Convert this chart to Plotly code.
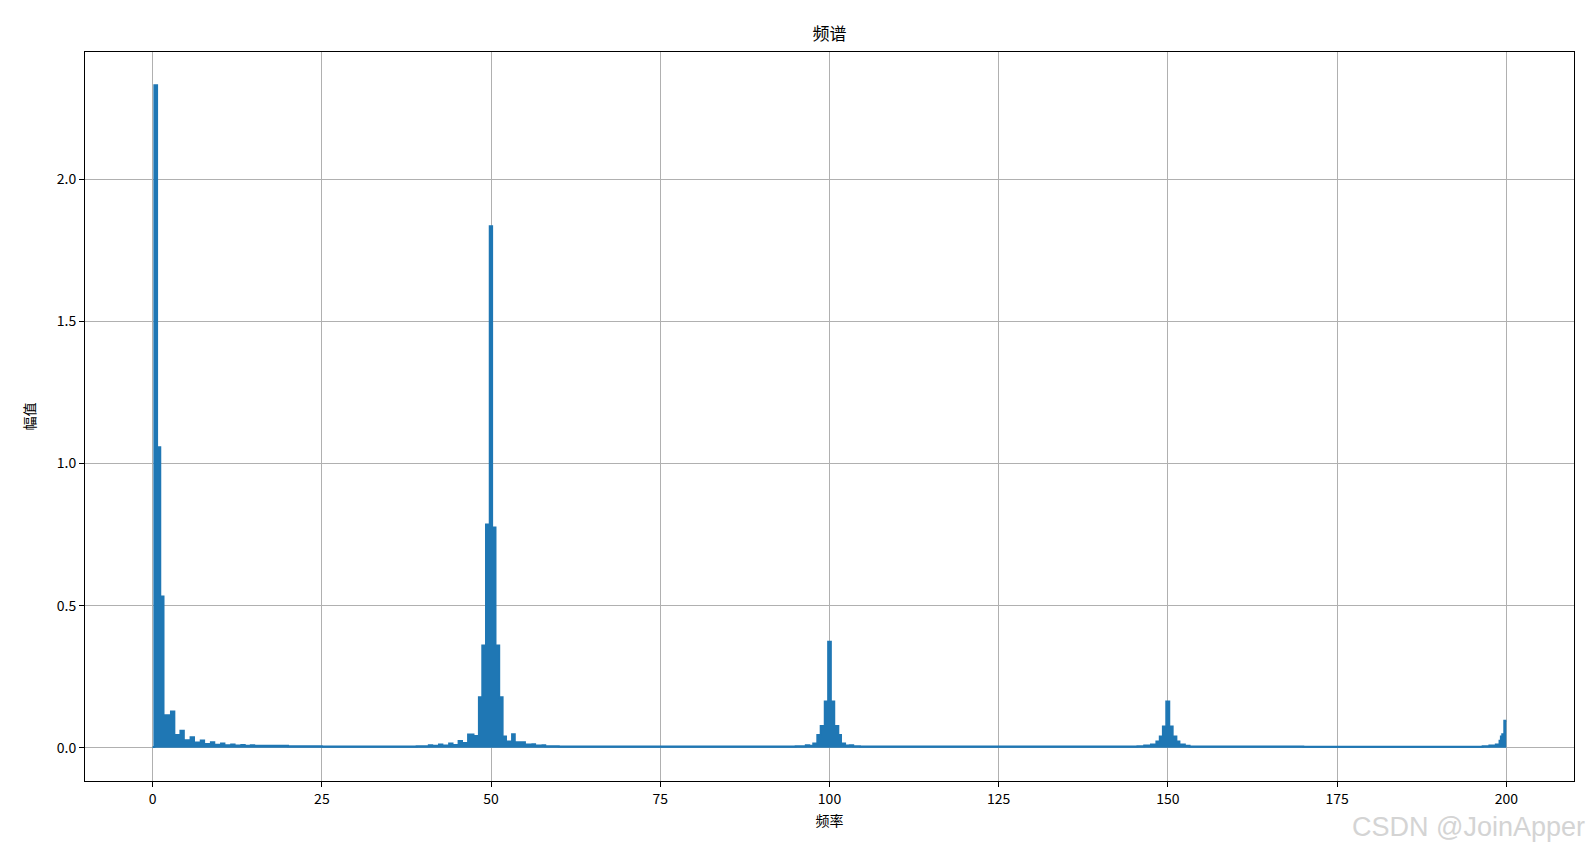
import plotly.graph_objects as go

# spectrum, as step levels (left edge of each step, amplitude)
dc_freq = [0.0, 0.25, 0.65, 1.12, 1.6, 2.7, 3.2, 4.1, 4.6, 5.6, 6.1, 7.1, 7.6,
           8.6, 9.1, 10.1, 10.6, 11.6, 12.1, 13.1, 13.6, 14.5, 15.0]
dc_amp = [0.003, 2.33, 1.057, 0.532, 0.115, 0.128, 0.045, 0.06, 0.027, 0.037,
          0.019, 0.026, 0.014, 0.02, 0.011, 0.015, 0.009, 0.012, 0.008, 0.01,
          0.007, 0.009, 0.007]

floor1_freq = [20.0, 25.0, 30.0, 35.0, 39.0]
floor1_amp = [0.006, 0.005, 0.005, 0.005, 0.006]

h50_freq = [40.8, 41.3, 42.3, 42.8, 43.8, 44.3, 45.2, 45.7, 46.6, 47.4, 48.2,
            48.7, 49.25, 49.8, 50.15, 50.65, 51.2, 51.7, 52.2, 53.1, 53.5,
            54.6, 55.0, 56.1, 56.5, 57.6, 58.0]
h50_amp = [0.009, 0.007, 0.012, 0.008, 0.015, 0.01, 0.024, 0.017, 0.047, 0.042,
           0.178, 0.36, 0.785, 1.834, 0.775, 0.36, 0.178, 0.04, 0.022, 0.048,
           0.02, 0.02, 0.012, 0.013, 0.008, 0.009, 0.006]

floor2_freq = [60.0, 70.0, 80.0, 90.0]
floor2_amp = [0.005, 0.005, 0.005, 0.005]

h100_freq = [95.0, 96.5, 97.0, 97.6, 98.2, 98.7, 99.3, 99.8, 100.2, 100.7,
             101.3, 101.7, 102.3, 103.0, 103.5, 104.5]
h100_amp = [0.006, 0.009, 0.007, 0.015, 0.045, 0.077, 0.163, 0.373, 0.163,
            0.077, 0.045, 0.015, 0.008, 0.009, 0.006, 0.005]

floor3_freq = [110.0, 120.0, 130.0, 140.0]
floor3_amp = [0.005, 0.005, 0.005, 0.005]

h150_freq = [145.5, 146.5, 147.5, 148.3, 148.8, 149.26, 149.76, 150.2, 150.7,
             151.25, 151.7, 152.5, 153.2]
h150_amp = [0.006, 0.008, 0.012, 0.022, 0.04, 0.075, 0.163, 0.075, 0.04,
            0.022, 0.012, 0.007, 0.005]

floor4_freq = [160.0, 170.0, 180.0, 190.0]
floor4_amp = [0.005, 0.004, 0.004, 0.004]

h200_freq = [196.5, 197.5, 198.45, 199.0, 199.2, 199.4, 199.7, 200.0]
h200_amp = [0.006, 0.008, 0.012, 0.025, 0.04, 0.048, 0.095, 0.095]

x_ticks = [0, 25, 50, 75, 100, 125, 150, 175, 200]
y_ticks = [0.0, 0.5, 1.0, 1.5, 2.0]
y_tick_labels = ["0.0", "0.5", "1.0", "1.5", "2.0"]

freq = (dc_freq + floor1_freq + h50_freq + floor2_freq + h100_freq
        + floor3_freq + h150_freq + floor4_freq + h200_freq)
amp = (dc_amp + floor1_amp + h50_amp + floor2_amp + h100_amp
       + floor3_amp + h150_amp + floor4_amp + h200_amp)

FONT = "Noto Sans CJK SC, SimHei, sans-serif"
BLUE = "#1f77b4"

fig = go.Figure(
    go.Scatter(
        x=freq,
        y=amp,
        mode="lines",
        line=dict(color=BLUE, width=2, shape="hv"),
        fill="tozeroy",
        fillcolor=BLUE,
        hoverinfo="x+y",
    )
)

axis_common = dict(
    showline=True,
    mirror=True,
    linecolor="black",
    linewidth=1,
    showgrid=True,
    gridcolor="#b0b0b0",
    gridwidth=1,
    zeroline=False,
    ticks="outside",
    ticklen=5,
    tickwidth=1,
    tickcolor="black",
    tickfont=dict(family=FONT, size=14, color="black"),
)

# the page body adds an 8px offset, so margins are shifted to compensate
fig.update_layout(
    width=1595,
    height=854,
    margin=dict(l=77, r=29, t=44, b=81),
    paper_bgcolor="white",
    plot_bgcolor="white",
    showlegend=False,
    title=dict(
        text="频谱",
        x=0.5,
        xref="paper",
        y=1 - 25.6 / 854,
        yref="container",
        yanchor="middle",
        font=dict(family=FONT, size=17, color="black"),
    ),
    xaxis=dict(
        axis_common,
        range=[-10, 210],
        tickvals=x_ticks,
        title=dict(text="频率", standoff=9,
                   font=dict(family=FONT, size=14, color="black")),
    ),
    yaxis=dict(
        axis_common,
        range=[-0.1165, 2.4465],
        tickvals=y_ticks,
        ticktext=y_tick_labels,
        title=dict(text="幅值", standoff=17,
                   font=dict(family=FONT, size=14, color="black")),
    ),
    annotations=[
        dict(
            text="CSDN @JoinApper",
            xref="paper",
            yref="paper",
            x=1.009,
            y=-0.063,
            xanchor="right",
            yanchor="middle",
            showarrow=False,
            font=dict(family="Liberation Sans, Arial", size=27, color="#d4d4d4"),
        )
    ],
)

fig.write_html("out.html")
